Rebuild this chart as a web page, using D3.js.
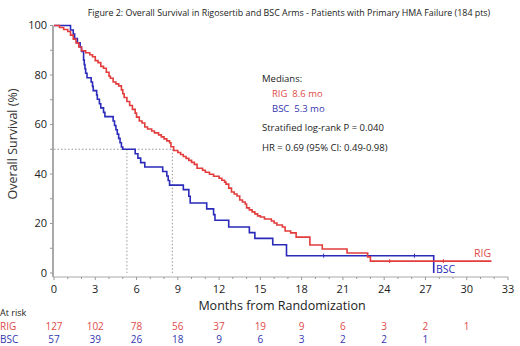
<!DOCTYPE html>
<html>
<head>
<meta charset="utf-8">
<script src="https://cdn.jsdelivr.net/npm/d3@7"></script>
<style>
  body { margin: 0; background: #fff; }
  svg { display: block; font-family: "Open Sans", "Noto Sans", sans-serif; }
  text { white-space: pre; }
</style>
</head>
<body>
<div id="chart"></div>
<script>
// Kaplan-Meier steps: [month, survival % after the drop]
const rigSteps = [
  [0, 100], [0.4, 99.2], [0.7, 98.4], [1.0, 97.6], [1.2, 96.1], [1.4, 94.5], [1.6, 93.0], [1.8, 91.3],
  [2.0, 89.8], [2.3, 89.0], [2.6, 88.2], [2.8, 87.4], [3.0, 85.8], [3.2, 85.0], [3.4, 83.5], [3.6, 82.7],
  [3.8, 81.1], [4.0, 79.5], [4.1, 78.7], [4.3, 77.2], [4.5, 76.4], [4.7, 75.6], [4.9, 74.0], [5.0, 72.4],
  [5.1, 70.9], [5.3, 69.3], [5.5, 67.7], [5.7, 66.1], [5.9, 64.6], [6.0, 63.0], [6.2, 61.4], [6.4, 60.6],
  [6.6, 59.0], [6.8, 58.2], [7.1, 57.4], [7.3, 56.6], [7.6, 55.8], [7.8, 55.0], [8.0, 54.2], [8.2, 53.4],
  [8.4, 52.6], [8.5, 51.0], [8.7, 49.5], [9.0, 48.7], [9.2, 47.9], [9.4, 47.1], [9.6, 46.3], [9.8, 45.5],
  [10.0, 44.7], [10.2, 43.9], [10.4, 42.3], [10.8, 41.5], [11.0, 40.7], [11.3, 39.9], [11.6, 39.1],
  [12.0, 38.3], [12.2, 37.5], [12.4, 36.7], [12.5, 35.9], [12.7, 34.3], [12.9, 32.7], [13.1, 31.9],
  [13.3, 31.1], [13.5, 29.5], [13.7, 28.7], [13.9, 27.9], [14.0, 26.3], [14.2, 25.5], [14.4, 24.7],
  [14.6, 23.9], [14.8, 23.1], [15.0, 22.6], [15.3, 21.8], [15.8, 21.0], [16.0, 20.2], [16.2, 19.4],
  [16.6, 18.6], [16.8, 17.0], [17.2, 16.2], [17.6, 14.5], [18.6, 11.3], [19.5, 9.7], [21.3, 8.1],
  [22.8, 6.5], [23.0, 4.8]
];
const rigEnd = 31.8;
const rigCensor = [24.4, 28.3];

const bscSteps = [
  [0, 100], [1.2, 98.2], [1.4, 96.5], [1.5, 94.7], [1.7, 93.0], [1.9, 91.2], [2.0, 89.5], [2.15, 86.0],
  [2.2, 84.2], [2.25, 82.5], [2.3, 80.7], [2.4, 78.9], [2.7, 77.2], [2.8, 75.4], [2.85, 73.7], [3.1, 71.9],
  [3.15, 70.2], [3.3, 68.4], [3.4, 66.7], [3.6, 64.9], [3.7, 63.2], [4.3, 61.4], [4.4, 59.6], [4.5, 57.9],
  [4.6, 56.1], [4.7, 54.4], [4.8, 52.6], [4.9, 50.9], [5.0, 50.0], [5.9, 48.2], [6.1, 46.4], [6.3, 44.6],
  [6.6, 42.8], [7.9, 41.0], [8.2, 39.2], [8.3, 37.4], [8.4, 35.5], [9.4, 33.7], [9.8, 31.0], [9.9, 28.3],
  [11.1, 25.9], [11.6, 23.6], [11.7, 21.3], [12.7, 18.6], [14.2, 16.3], [14.6, 14.0], [15.9, 11.4],
  [16.9, 7.0], [27.6, 0]
];
const bscCensor = [19.6, 26.2];

const medians = [8.6, 5.3];
const atRiskTimes = [0, 3, 6, 9, 12, 15, 18, 21, 24, 27, 30];
const rigAtRisk = [127, 102, 78, 56, 37, 19, 9, 6, 3, 2, 1];
const bscAtRisk = [57, 39, 26, 18, 9, 6, 3, 2, 2, 1];
const xTicks = d3.range(0, 34, 3);
const yTicks = [0, 20, 40, 60, 80, 100];

const RED = "#e23c3c", BLUE = "#2a2abb";
const RED_T = "#e04a4a", BLUE_T = "#3636b0";

const W = 520, H = 346;
const svg = d3.select("#chart").append("svg").attr("width", W).attr("height", H);

const x = d3.scaleLinear().domain([0, 33]).range([54, 508]);
const y = d3.scaleLinear().domain([0, 100]).range([273, 25.5]);

// title
svg.append("text").attr("x", 289).attr("y", 16).attr("text-anchor", "middle")
  .style("font-size", "8.9px").attr("fill", "#222")
  .text("Figure 2: Overall Survival in Rigosertib and BSC Arms - Patients with Primary HMA Failure (184 pts)");

// y axis
const yAxis = svg.append("g").attr("transform", "translate(53,0)");
yAxis.append("line").attr("y1", y(100)).attr("y2", 277).attr("stroke", "#aaa").attr("stroke-width", 2);
yAxis.selectAll(".minor").data(d3.range(0, 101, 10)).join("line")
  .attr("x1", -3).attr("x2", 0).attr("y1", d => y(d)).attr("y2", d => y(d)).attr("stroke", "#999");
yAxis.selectAll(".lab").data(yTicks).join("text")
  .attr("x", -6).attr("y", d => y(d)).attr("dy", "0.35em").attr("text-anchor", "end")
  .style("font-size", "11px").attr("fill", "#222").text(d => d);
svg.append("text").attr("transform", "translate(17,144) rotate(-90)").attr("text-anchor", "middle")
  .style("font-size", "12.5px").attr("fill", "#333").text("Overall Survival (%)");

// x axis
const xAxis = svg.append("g").attr("transform", "translate(0,277)");
xAxis.append("line").attr("x1", 53).attr("x2", 508).attr("stroke", "#aaa").attr("stroke-width", 1.2);
xAxis.selectAll(".minor").data(d3.range(0, 34, 1)).join("line")
  .attr("x1", d => x(d)).attr("x2", d => x(d)).attr("y1", 0).attr("y2", d => d % 3 === 0 ? 3 : 2)
  .attr("stroke", "#999");
xAxis.selectAll(".lab").data(xTicks).join("text")
  .attr("x", d => x(d)).attr("y", 16).attr("text-anchor", "middle")
  .style("font-size", "11px").attr("fill", "#222").text(d => d);
svg.append("text").attr("x", 282).attr("y", 310).attr("text-anchor", "middle")
  .style("font-size", "12.5px").attr("fill", "#222").text("Months from Randomization");

// median reference lines
const ref = svg.append("g").attr("stroke", "#999").attr("stroke-dasharray", "1.5,2").attr("fill", "none");
ref.append("line").attr("x1", x(0)).attr("x2", x(d3.max(medians))).attr("y1", y(50)).attr("y2", y(50));
ref.selectAll(".v").data(medians).join("line")
  .attr("x1", d => x(d)).attr("x2", d => x(d)).attr("y1", y(50)).attr("y2", y(0));

// survival curves
const step = d3.line().x(d => x(d[0])).y(d => y(d[1])).curve(d3.curveStepAfter);
svg.append("path").datum(bscSteps)
  .attr("d", step).attr("fill", "none").attr("stroke", BLUE).attr("stroke-width", 1.6);
svg.append("path").datum(rigSteps.concat([[rigEnd, rigSteps[rigSteps.length - 1][1]]]))
  .attr("d", step).attr("fill", "none").attr("stroke", RED).attr("stroke-width", 1.6);

function survAt(steps, t) {
  let s = steps[0][1];
  for (const p of steps) if (p[0] <= t) s = p[1];
  return s;
}
svg.selectAll(".cr").data(rigCensor).join("line")
  .attr("x1", d => x(d)).attr("x2", d => x(d))
  .attr("y1", d => y(survAt(rigSteps, d)) - 2).attr("y2", d => y(survAt(rigSteps, d)) + 2)
  .attr("stroke", RED).attr("stroke-width", 1);
svg.selectAll(".cb").data(bscCensor).join("line")
  .attr("x1", d => x(d)).attr("x2", d => x(d))
  .attr("y1", d => y(survAt(bscSteps, d)) - 2).attr("y2", d => y(survAt(bscSteps, d)) + 2)
  .attr("stroke", BLUE).attr("stroke-width", 1);

svg.append("text").attr("x", 474).attr("y", 257).style("font-size", "10.5px").attr("fill", RED_T).text("RIG");
svg.append("text").attr("x", 436).attr("y", 273).style("font-size", "10.5px").attr("fill", BLUE).text("BSC");

// stats annotation
const ann = svg.append("g").style("font-size", "9.5px");
ann.append("text").attr("x", 262).attr("y", 82).attr("fill", "#222").text("Medians:");
ann.append("text").attr("x", 272).attr("y", 97).attr("fill", RED_T).text(`RIG  ${medians[0]} mo`);
ann.append("text").attr("x", 272).attr("y", 112).attr("fill", BLUE_T).text(`BSC  ${medians[1]} mo`);
ann.append("text").attr("x", 262).attr("y", 131).attr("fill", "#222").text("Stratified log-rank P = 0.040");
ann.append("text").attr("x", 262).attr("y", 151).attr("fill", "#222").text("HR = 0.69 (95% CI: 0.49-0.98)");

// at risk table
svg.append("text").attr("x", 0).attr("y", 316).style("font-size", "9px").attr("fill", "#222").text("At risk");
svg.append("text").attr("x", 0).attr("y", 329.5).style("font-size", "10px").attr("fill", RED_T).text("RIG");
svg.append("text").attr("x", 0).attr("y", 342.5).style("font-size", "10px").attr("fill", BLUE_T).text("BSC");
svg.selectAll(".rr").data(rigAtRisk).join("text")
  .attr("x", (d, i) => x(atRiskTimes[i])).attr("y", 329.5).attr("text-anchor", "middle")
  .style("font-size", "10px").attr("fill", RED_T).text(d => d);
svg.selectAll(".br").data(bscAtRisk).join("text")
  .attr("x", (d, i) => x(atRiskTimes[i])).attr("y", 342.5).attr("text-anchor", "middle")
  .style("font-size", "10px").attr("fill", BLUE_T).text(d => d);
</script>
</body>
</html>
